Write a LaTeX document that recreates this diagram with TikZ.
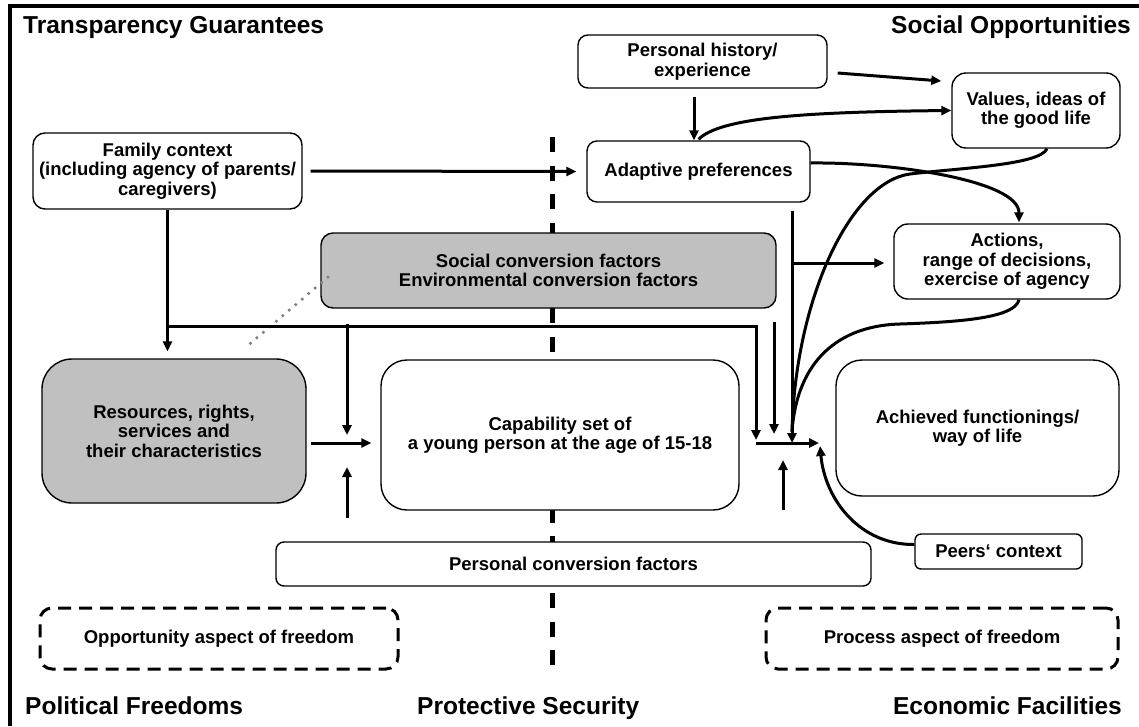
\documentclass[tikz,border=0pt]{standalone}
\usepackage{fontspec}
\setmainfont{Liberation Sans}
\usetikzlibrary{arrows.meta,calc}
\definecolor{boxgray}{RGB}{192,192,192}
\definecolor{dotgray}{RGB}{128,128,128}
\begin{document}
\begin{tikzpicture}[x=1pt,y=-1pt,
  box/.style={draw=black, line width=1.4pt, rounded corners=#1, fill=white,
    align=center, inner sep=0pt,
    font=\bfseries\fontsize{18.5}{19.5}\selectfont},
  box/.default=10pt,
  graybox/.style={box=#1, fill=boxgray},
  graybox/.default=12pt,
  dbox/.style={draw=black, line width=3pt, dash pattern=on 13pt off 8pt,
    rounded corners=12pt, align=center, inner sep=0pt,
    font=\bfseries\fontsize{18.5}{19.5}\selectfont},
  corner/.style={font=\bfseries\fontsize{24.5}{26}\selectfont, inner sep=0pt},
  arr/.style={line width=3pt, line join=miter, -{Triangle[length=10pt,width=9pt]}},
  conn/.style={line width=3pt, line join=miter},
]
\useasboundingbox (0,0) rectangle (1139,726);
\fill[white] (0,0) rectangle (1139,726);

% frame (top and left edges)
\draw[line width=4pt] (10,726) -- (10,6) -- (1139,6);

% partition line running behind the boxes
\draw[line width=5pt, dash pattern=on 15pt off 13.5pt] (552,137) -- (552,668);

% corner labels
\node[corner, anchor=base west] (lTG) at (23,33) {Transparency Guarantees};
\node[corner, anchor=base east] (lSO) at (1131,33) {Social Opportunities};
\node[corner, anchor=base west] (lPF) at (25,714) {Political Freedoms};
\node[corner, anchor=base west] (lPS) at (417,714) {Protective Security};
\node[corner, anchor=base east] (lEF) at (1122,714) {Economic Facilities};

% boxes
\node[box=10pt, minimum width=249pt, minimum height=53pt] (ph) at (702.5,61.5) {Personal history/\\experience};
\node[box=14pt, minimum width=168pt, minimum height=75pt] (values) at (1036,110.5) {Values, ideas of\\the good life};
\node[box=10pt, minimum width=223pt, minimum height=61pt] (adapt) at (698.5,171.5) {Adaptive preferences};
\node[box=12pt, minimum width=269pt, minimum height=76pt] (family) at (167.5,171) {Family context\\(including agency of parents/\\caregivers)};
\node[graybox=12pt, minimum width=455pt, minimum height=75pt] (social) at (548.5,270.5) {Social conversion factors\\Environmental conversion factors};
\node[box=14pt, minimum width=226pt, minimum height=75pt] (actions) at (1007,261.5) {Actions,\\range of decisions,\\exercise of agency};
\node[graybox=30pt, minimum width=264pt, minimum height=144pt] (resources) at (174,431) {Resources, rights,\\services and\\their characteristics};
\node[box=26pt, minimum width=358pt, minimum height=150pt] (capab) at (560,435) {Capability set of\\a young person at the age of 15-18};
\node[box=26pt, minimum width=283pt, minimum height=136pt] (achieved) at (977.5,428) {Achieved functionings/\\way of life};
\node[box=6pt, minimum width=167pt, minimum height=35pt] (peers) at (998.5,551.5) {Peers‘ context};
\node[box=8pt, minimum width=595pt, minimum height=44pt] (pconv) at (573.5,564) {Personal conversion factors};
\node[dbox, minimum width=358pt, minimum height=61pt] (opp) at (219,638.5) {Opportunity aspect of freedom};
\node[dbox, minimum width=352pt, minimum height=61pt] (proc) at (942,638.5) {Process aspect of freedom};

% junction points
\coordinate (fj) at ($(family.south)+(0,117)$);
\coordinate (b1) at (347,326);
\coordinate (jl) at (756,443);
\coordinate (jm) at (792,443);
\coordinate (jr) at (819,443);
\coordinate (vtop) at ($(adapt.south)+(93.5,8)$);
\coordinate (vtap) at (792,263);
\coordinate (vmerge) at (792,432);

% dotted link between the two grey boxes
\draw[dotgray, line width=3.5pt, line cap=round, dash pattern=on 0pt off 8.5pt]
  (328,277) -- (245,348);

% family context
\draw[arr, shorten <=8pt, shorten >=10pt] (family.east) -- (adapt.west);
\draw[arr, shorten >=7pt] (family.south) -- (family.south |- resources.north);
\draw[arr] (fj) -- (jl |- fj) -- ($(jl)+(0,-3)$);
\draw[arr] ($(b1)+(0,-2)$) -- (347,435);

% personal history
\draw[arr] ($(ph.east)+(10,11.5)$) -- ($(values.west)+(-10,-29.5)$);
\draw[arr] ($(ph.south)+(-8.5,8)$) -- ($(adapt.north)+(-4.5,0)$);

% adaptive preferences
\draw[arr] ($(adapt.north)+(0,-1)$) .. controls (720,118) and (800,112) .. (values.west);
\draw[arr] ($(adapt.east)+(0,-8.5)$) .. controls (890,162) and (1019,180) .. ($(actions.north)+(12,-1)$);
\draw[arr] (vtop) -- (jm);
\draw[arr] (vtap) -- ($(actions.west)+(-9,1.5)$);

% values and actions feed the achieved functionings
\draw[conn] ($(values.south)+(11,0)$) .. controls (1040,165) and (960,168) .. (910,174)
  .. controls (850,182) and (795,300) .. (vmerge);
\draw[conn] ($(actions.south)+(12,0)$) .. controls (1015,318) and (960,322) .. (900,324)
  .. controls (830,326) and (796,370) .. (vmerge);

% resources into the capability set
\draw[arr] ($(resources.east)+(4,12)$) -- ($(capab.west)+(-9,8)$);
\draw[arr] (347,518) -- (347,467);

% capability set into achieved functionings
\draw[arr] (774,322) -- (774,434);
\draw[arr] (jl) -- (jr);
\draw[arr] (783,510) -- (783,460);
\draw[arr] ($(peers.west)+(0,-7)$) .. controls (860,545) and (825,500) .. ($(jr)+(1,3)$);
\end{tikzpicture}
\end{document}
